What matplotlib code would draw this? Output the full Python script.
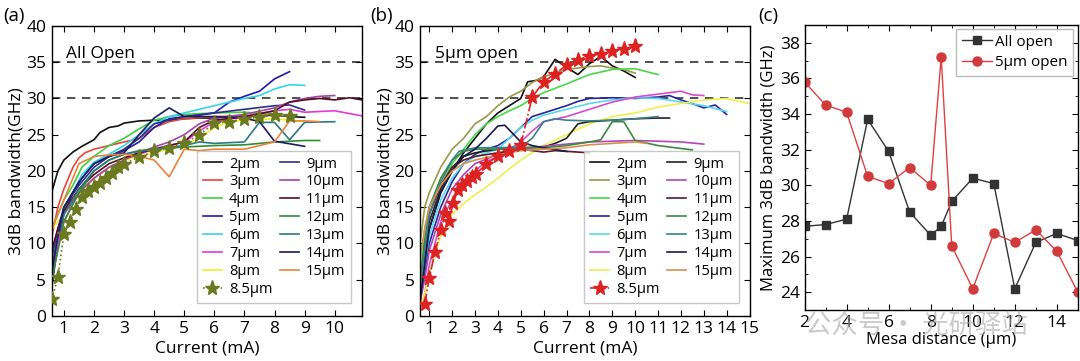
import matplotlib.pyplot as plt
from matplotlib.ticker import MultipleLocator

plt.rcParams['font.family'] = ['Open Sans', 'DejaVu Sans']
plt.rcParams['font.size'] = 11

# ---------------- data ----------------
labels = ['2μm', '3μm', '4μm', '5μm', '6μm', '7μm', '8μm', '8.5μm',
          '9μm', '10μm', '11μm', '12μm', '13μm', '14μm', '15μm']

colors_a = ['#111111', '#e8453c', '#3fcf3f', '#1c1ca8', '#35d3e8', '#e03ad8', '#f2ee2e', '#6b7a1e',
            '#2e2e8a', '#a244a8', '#5a0c22', '#2e8c3a', '#2a7a80', '#1c1c60', '#e8853a']
colors_b = ['#111111', '#9a9a4a', '#48d848', '#2626a0', '#5ad8ee', '#d84ad0', '#eef050', '#dd2222',
            '#222222', '#b048b8', '#5a1a2a', '#3a8a40', '#3a8088', '#1a1a4a', '#d89050']

# panel (a): All Open
a_x = {
    '2μm': [0.6, 0.8, 1, 1.3, 1.6, 2, 2.2, 2.5, 2.8, 3, 3.5, 4, 4.5, 5, 5.5, 6, 6.5, 7, 7.5, 8, 8.5, 9],
    '3μm': [0.6, 0.8, 1, 1.3, 1.5, 1.7, 2, 2.5, 3, 3.5, 4, 4.5, 5, 6, 7, 8, 8.5],
    '4μm': [0.6, 0.8, 1, 1.3, 1.6, 2, 2.5, 3, 3.5, 4, 4.5, 5, 6, 7, 8, 8.5],
    '5μm': [0.6, 0.8, 1, 1.3, 1.6, 2, 2.5, 3, 3.5, 4, 4.5, 5, 5.5, 6, 6.5, 7, 7.5, 8, 8.5],
    '6μm': [0.6, 0.8, 1, 1.3, 1.6, 2, 2.5, 3, 3.5, 4, 4.5, 5, 5.5, 6, 6.5, 7, 7.5, 8, 8.5, 9],
    '7μm': [0.6, 0.8, 1, 1.3, 1.6, 2, 2.5, 3, 3.5, 4, 4.5, 5, 5.5, 6, 7, 8, 8.5, 9, 10, 10.9],
    '8μm': [0.6, 0.8, 1, 1.3, 1.6, 2, 2.5, 3, 3.5, 4, 4.5, 5, 5.5, 6, 6.5, 7, 8, 8.5, 9],
    '8.5μm': [0.6, 0.8, 1.0, 1.2, 1.4, 1.6, 1.8, 2.0, 2.2, 2.4, 2.6, 2.8, 3.0, 3.5, 4.0, 4.5,
              5.0, 5.5, 6.0, 6.5, 7.0, 7.5, 8.0, 8.5],
    '9μm': [0.6, 0.8, 1, 1.5, 2, 2.5, 3, 3.5, 4, 4.5, 5, 6, 7, 8, 8.5, 9],
    '10μm': [0.6, 0.8, 1, 1.5, 2, 2.5, 3, 3.5, 4, 4.5, 5, 5.5, 6, 7, 8, 8.5, 9, 9.5, 10],
    '11μm': [0.6, 0.8, 1, 1.5, 2, 2.5, 3, 3.5, 4, 4.5, 5, 5.5, 6, 7, 8, 8.5, 9, 9.5, 10, 10.5, 10.9],
    '12μm': [0.6, 0.8, 1, 1.5, 2, 2.5, 3, 3.5, 4, 5, 6, 7, 8, 9, 9.5],
    '13μm': [0.6, 0.8, 1, 1.5, 2, 2.5, 3, 3.5, 4, 5, 5.5, 6, 7, 7.5, 8, 8.5, 9, 10],
    '14μm': [0.6, 0.8, 1, 1.5, 2, 2.5, 3, 3.5, 4, 4.5, 5, 6, 7, 7.5, 8, 9],
    '15μm': [0.6, 0.8, 1, 1.3, 1.5, 2, 2.5, 3, 3.5, 4, 4.5, 5, 5.5, 6, 7, 7.5, 8, 8.5, 9, 9.5],
}
a_y = {
    '2μm': [17.1, 20, 21.5, 22.6, 23.4, 24.3, 25.3, 26, 26.2, 26.6, 26.9, 27, 27, 27.2, 27.3, 27.3,
            27.5, 27.6, 27.6, 27.7, 27.5, 27.4],
    '3μm': [11, 15, 17.5, 20.5, 21.8, 22.5, 23, 23.5, 24, 24.5, 26, 26.8, 27.2, 27.5, 27.6, 27.8, 27.6],
    '4μm': [12, 14, 16, 18, 20.5, 22, 23.5, 24.5, 25.8, 27, 27.5, 27.8, 28, 28.1, 27.8, 27.6],
    '5μm': [4, 10, 14, 17, 19, 21, 22, 22.8, 24, 26, 27.2, 27.5, 27.7, 28, 29.5, 30.3, 31, 32.7, 33.7],
    '6μm': [6, 11, 15, 17, 19.5, 21.2, 22.3, 23.5, 25, 26.5, 27.5, 28, 28.5, 29, 29.5, 30, 30.4,
            31.3, 31.9, 31.8],
    '7μm': [6, 10, 13, 15.5, 17.5, 19, 20.5, 21.5, 22.3, 23, 23.5, 24, 25.5, 26.8, 27.5, 28.3, 28.5,
            28.1, 28.3, 27.6],
    '8μm': [12, 13, 14, 16, 17.5, 19, 20.5, 21.5, 22, 22.5, 23, 23.5, 24.5, 26, 26.8, 27, 27.2, 27, 26.8],
    '8.5μm': [2.3, 5.3, 11.3, 13.0, 14.7, 16.4, 17.3, 17.8, 18.4, 19.0, 19.7, 20.5, 21.0, 21.9, 22.7,
              23.2, 23.8, 25.0, 26.6, 26.8, 27.2, 27.4, 27.7, 27.6],
    '9μm': [8, 12, 15, 18, 20.5, 22, 23, 24.5, 26.5, 27, 27.5, 28, 28.5, 29, 29.1, 28.4],
    '10μm': [9, 12, 14, 17, 19, 20.5, 21.5, 22.5, 23.3, 24, 25, 26.5, 27.3, 27.8, 28.7, 29.5, 30,
             30.3, 30.4],
    '11μm': [9, 12, 14.5, 17.5, 19.5, 21, 21.8, 22.5, 23, 23.5, 24, 26, 27, 27.5, 28.3, 29.5, 29.8,
             30, 29.8, 30.1, 29.8],
    '12μm': [5, 9, 13, 17, 20, 21.5, 22.3, 22.8, 23, 23.3, 23.5, 23.6, 24, 24.2, 24.2],
    '13μm': [7, 11, 14, 17.5, 20, 21.5, 22.3, 22.7, 23, 23.5, 24, 23.8, 24, 26.7, 26.7, 24.3, 26.7, 26.8],
    '14μm': [6, 11, 15, 18.5, 21, 22, 22.5, 25, 27.3, 28.7, 27.5, 27.5, 27.3, 26.8, 24.1, 23.4],
    '15μm': [12, 14, 16, 19, 21, 22, 22.2, 22.3, 22, 21.5, 19.2, 23, 22.8, 23, 23, 23.5, 24, 26.9,
             26.9, 26.8],
}

# panel (b): 5um open
b_x = {
    '2μm': [0.6, 0.8, 1, 1.3, 1.5, 2, 2.5, 3, 3.5, 4, 4.5, 5, 5.3, 5.7, 6, 6.5, 7, 7.5, 8, 8.5, 9, 9.5, 10],
    '3μm': [0.6, 0.8, 1, 1.5, 2, 2.5, 3, 3.5, 4, 4.5, 5, 5.5, 6, 7, 8, 8.5, 9, 9.5, 10],
    '4μm': [0.6, 0.8, 1, 1.5, 2, 2.5, 3, 3.5, 4, 4.5, 5, 5.5, 6, 7, 8, 9, 10, 11],
    '5μm': [0.6, 0.8, 1, 1.5, 2, 2.5, 3, 3.5, 4, 4.5, 5, 5.5, 6, 7, 7.5, 8, 9, 10, 11, 11.5, 12, 12.5,
            13, 13.5, 14],
    '6μm': [0.6, 0.8, 1, 1.5, 2, 2.5, 3, 3.5, 4, 4.5, 5, 5.5, 6, 7, 8, 9, 10, 11, 12, 13, 14],
    '7μm': [0.6, 0.8, 1, 1.5, 2, 2.5, 3, 3.5, 4, 4.5, 5, 5.5, 6, 7, 8, 9, 10, 11, 12, 12.5, 13],
    '8μm': [0.6, 0.8, 1, 1.5, 2, 2.5, 3, 3.5, 4, 4.5, 5, 5.5, 6, 7, 8, 9, 10, 11, 12, 13, 14, 15],
    '8.5μm': [0.8, 1.0, 1.25, 1.5, 1.7, 1.85, 2.05, 2.25, 2.45, 2.65, 2.85, 3.05, 3.5, 4, 4.5, 5,
              5.5, 6, 6.5, 7, 7.5, 8, 8.5, 9, 9.5, 10],
    '9μm': [0.6, 0.8, 1, 1.5, 2, 2.5, 3, 4, 5, 6, 6.5, 7, 7.5, 8, 9, 10, 11, 11.5],
    '10μm': [0.6, 0.8, 1, 1.5, 2, 2.5, 3, 4, 5, 6, 7, 8, 9, 10, 11, 12, 13],
    '11μm': [0.6, 0.8, 1, 1.5, 2, 2.5, 3, 4, 5, 6, 6.5, 7, 7.5, 8],
    '12μm': [0.6, 0.8, 1, 1.5, 2, 2.5, 3, 4, 5, 6, 7, 8, 8.5, 9, 9.5, 10, 11, 12, 12.5],
    '13μm': [0.6, 0.8, 1, 1.5, 2, 2.3, 3, 4, 5, 5.5, 6, 6.5, 7, 8, 9, 10, 11],
    '14μm': [0.6, 0.8, 1, 1.5, 2, 2.5, 3, 3.5, 4, 4.3, 4.7, 5, 5.5, 6, 7],
    '15μm': [0.6, 0.8, 1, 1.5, 2, 2.5, 3, 4, 5, 6, 7, 8, 9, 10, 10.5],
}
b_y = {
    '2μm': [2, 8, 12, 15, 17, 20, 22.5, 24.5, 26.5, 28, 29, 30, 32.3, 32.5, 33, 35.4, 34.3, 33.3, 34.8,
            35.8, 34.5, 33.8, 32.9],
    '3μm': [10, 15, 17, 20.5, 23, 24.5, 26.5, 27.5, 29, 30.2, 31, 32.2, 33, 34, 34.4, 34.5, 34.2, 34, 33.5],
    '4μm': [5, 12, 15, 18, 21, 23, 25, 26.5, 27.5, 28.3, 29, 30, 30.8, 32, 33.3, 34, 34.1, 33.3],
    '5μm': [2, 6, 10, 15, 18.5, 21, 22.3, 23, 23.5, 24.5, 26, 27.5, 28, 29, 29.6, 30, 30.1, 30, 30.2,
            30.4, 29.8, 29.3, 28.7, 29.1, 27.8],
    '6μm': [3, 7, 11, 16, 19, 21, 22, 22.5, 23, 24.5, 26, 27, 27.7, 28.5, 29.3, 29.8, 30.1, 30, 29.5,
            29, 28.2],
    '7μm': [1, 3, 7, 13, 16, 18.5, 20, 21.3, 22, 23, 24, 25.5, 26.8, 27.5, 28.5, 29.5, 30.2, 30.6, 31.0,
            30.5, 30.4],
    '8μm': [1, 3, 6, 11, 14, 15.5, 16.7, 17.8, 19, 20.3, 21.5, 22.5, 23.5, 25, 26.5, 27.5, 28, 28.8,
            29.3, 29.8, 30, 29.3],
    '8.5μm': [1.6, 5.2, 8.8, 11.8, 14.2, 13.1, 15.6, 17.4, 18.1, 18.6, 19.1, 19.6, 21.0, 22.0, 22.7,
              23.6, 30.2, 32.3, 33.4, 34.6, 35.3, 35.9, 36.2, 36.6, 36.8, 37.2],
    '9μm': [3, 9, 13, 17.5, 20.5, 22, 22.5, 23, 23.2, 23.3, 23.8, 24.5, 26.5, 26.8, 27, 27.2, 27.3, 27.3],
    '10μm': [2, 5, 9, 14, 17.5, 19.5, 21, 22.3, 23, 23.4, 23.7, 24, 24.1, 24.2, 24.1, 24, 23.7],
    '11μm': [4, 10, 14, 18, 20.5, 21.5, 22, 22.5, 23, 22.6, 22.8, 22.7, 22.6, 22.5],
    '12μm': [4, 10, 15, 19, 21.5, 22.7, 23, 23, 23.2, 23.2, 23.5, 24, 24.3, 26.8, 26.8, 24.2, 23.5,
             23.1, 22.9],
    '13μm': [3, 9, 14, 18.5, 21.5, 22.7, 23.2, 23.2, 23.3, 24.5, 26.8, 27.2, 27, 26.9, 27, 27.2, 27.5],
    '14μm': [2, 7, 12, 17, 20, 22, 23, 24.5, 26.2, 26.3, 25, 24, 23.5, 23.2, 22.7],
    '15μm': [8, 12, 15, 18, 20, 21, 21.5, 22.2, 22.8, 23, 23.2, 23.6, 23.8, 24, 23.8],
}

# panel (c): maximum bandwidth vs mesa distance
mesa = [2, 3, 4, 5, 6, 7, 8, 8.5, 9, 10, 11, 12, 13, 14, 15]
max_all_open = [27.7, 27.8, 28.1, 33.7, 31.9, 28.5, 27.2, 27.7, 29.1, 30.4, 30.1, 24.2, 26.8, 27.3, 26.9]
max_5um_open = [35.8, 34.5, 34.1, 30.5, 30.1, 31.0, 30.0, 37.2, 26.6, 24.2, 27.3, 26.8, 27.5, 26.3, 24.0]

# ---------------- figure ----------------
fig = plt.figure(figsize=(10.8, 3.61), dpi=100)
ax_a = fig.add_axes([0.048, 0.125, 0.287, 0.803])
ax_b = fig.add_axes([0.389, 0.125, 0.305, 0.803])
ax_c = fig.add_axes([0.745, 0.141, 0.253, 0.790])


def draw_current_panel(ax, xs, ys, colors, star_color, star_ls, xmax, title):
    handles = []
    for lab, col in zip(labels, colors):
        if lab == '8.5μm':
            h, = ax.plot(xs[lab], ys[lab], color=star_color, ls=star_ls, lw=1.2, marker='*',
                         ms=11, zorder=5)
        else:
            h, = ax.plot(xs[lab], ys[lab], color=col, lw=1.2)
        handles.append(h)
    ax.axhline(30, color='#333333', ls=(0, (5, 4)), lw=1.2, zorder=1)
    ax.axhline(35, color='#333333', ls=(0, (5, 4)), lw=1.2, zorder=1)
    ax.set_xlim(0.6, xmax)
    ax.set_ylim(0, 40)
    ax.xaxis.set_major_locator(MultipleLocator(1))
    ax.yaxis.set_major_locator(MultipleLocator(5))
    ax.tick_params(direction='in', top=True, right=True, length=4, labelsize=12.5, pad=4)
    ax.set_xlabel('Current (mA)', fontsize=12.5, labelpad=2)
    ax.set_ylabel('3dB bandwidth(GHz)', fontsize=12.5, labelpad=1)
    ax.text(0.045, 0.93, title, transform=ax.transAxes, fontsize=12.5, va='top')
    leg = ax.legend(handles, labels, ncol=2, loc='lower right', fontsize=10.5,
                    handlelength=1.3, handletextpad=0.5, columnspacing=0.5, labelspacing=0.2,
                    borderpad=0.4, frameon=True, fancybox=False, bbox_to_anchor=(0.99, 0.02))
    leg.get_frame().set_edgecolor('#bbbbbb')
    leg.get_frame().set_linewidth(1.0)


draw_current_panel(ax_a, a_x, a_y, colors_a, '#6b7a1e', ':', 10.9, 'All Open')
draw_current_panel(ax_b, b_x, b_y, colors_b, '#dd2222', '-.', 15.0, '5μm open')

ax_c.plot(mesa, max_all_open, color='#333333', lw=1.0, marker='s', ms=6, label='All open')
ax_c.plot(mesa, max_5um_open, color='#e04040', lw=1.0, marker='o', ms=6.5,
          markerfacecolor='#d03a3a', markeredgecolor='#d03a3a', label='5μm open')
ax_c.set_xlim(2, 15)
ax_c.set_ylim(23, 39)
ax_c.xaxis.set_major_locator(MultipleLocator(2))
ax_c.xaxis.set_minor_locator(MultipleLocator(1))
ax_c.yaxis.set_major_locator(MultipleLocator(2))
ax_c.yaxis.set_minor_locator(MultipleLocator(1))
ax_c.tick_params(which='both', direction='in', top=True, right=True, labelsize=12.5)
ax_c.tick_params(which='major', length=4)
ax_c.tick_params(which='minor', length=2)
ax_c.set_xlabel('Mesa distance (μm)', fontsize=12, labelpad=1)
ax_c.set_ylabel('Maximum 3dB bandwidth (GHz)', fontsize=12, labelpad=2)
leg_c = ax_c.legend(loc='upper right', fontsize=11, handlelength=2.0, handletextpad=0.2,
                    labelspacing=0.35, borderpad=0.35, fancybox=False, borderaxespad=0.3)
leg_c.get_frame().set_edgecolor('#aaaaaa')

for ax in (ax_a, ax_b, ax_c):
    for sp in ax.spines.values():
        sp.set_linewidth(1.0)

fig.text(0.003, 0.955, '(a)', fontsize=13.5, va='center')
fig.text(0.343, 0.955, '(b)', fontsize=13.5, va='center')
fig.text(0.702, 0.955, '(c)', fontsize=13.5, va='center')

# watermark
fig.text(0.745, 0.10, '公众号 · 光研驿站', fontsize=19, color='#a8a8a8', alpha=0.6,
         family=['Noto Sans CJK SC', 'DejaVu Sans'], va='center', zorder=0)

fig.savefig('out.png', dpi=100)
